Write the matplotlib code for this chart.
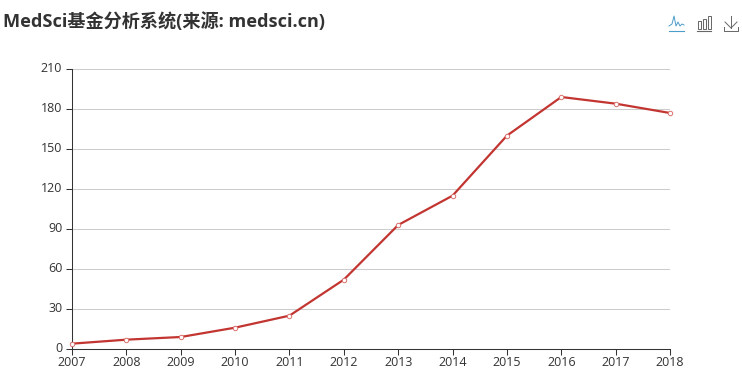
import matplotlib
matplotlib.use("Agg")
import matplotlib.pyplot as plt
from matplotlib.lines import Line2D
from matplotlib.patches import Rectangle

plt.rcParams['font.family'] = ['Open Sans', 'Noto Sans CJK SC', 'DejaVu Sans']

years = ['2007', '2008', '2009', '2010', '2011', '2012', '2013', '2014', '2015', '2016', '2017', '2018']
values = [4, 7, 9, 16, 25, 52, 93, 115, 160, 189, 184, 177]
yticks = [0, 30, 60, 90, 120, 150, 180, 210]
title = 'MedSci基金分析系统(来源: medsci.cn)'

W, H = 742, 376
fig = plt.figure(figsize=(W / 100, H / 100), dpi=100, facecolor='white')
L, R, T, B = 72, 670, 69, 349
ax = fig.add_axes([L / W, 1 - B / H, (R - L) / W, (B - T) / H])
xs = list(range(len(years)))
ax.plot(xs, values, color='#c23531', lw=1.6, marker='o', ms=3.2, mfc='white',
        mec='#d9706c', mew=0.7, clip_on=False, zorder=5)
ax.set_xlim(0, len(years) - 1)
ax.set_ylim(0, 210)
ax.set_xticks(xs)
ax.set_xticklabels(years)
ax.set_yticks(yticks)
ax.grid(axis='y', color='#cccccc', lw=0.75)
ax.set_axisbelow(True)
for s in ('top', 'right'):
    ax.spines[s].set_visible(False)
for s in ('left', 'bottom'):
    ax.spines[s].set_color('#333333')
    ax.spines[s].set_linewidth(0.75)
ax.tick_params(axis='both', colors='#333333', labelsize=9, length=4, width=0.75, pad=1)
ax.tick_params(axis='y', pad=3)
for lab in ax.get_yticklabels():
    lab.set_verticalalignment('center')
    lab.set_y(lab.get_position()[1])

fig.text(3 / W, 1 - 22 / H, title, fontsize=13.05, fontweight='bold', color='#333333',
         ha='left', va='center')

def px_line(px, py, color, lw=1):
    fig.add_artist(Line2D([p / W for p in px], [1 - p / H for p in py],
                          color=color, lw=lw, transform=fig.transFigure))

blue = '#4b9cc9'
grey = '#666666'
px_line([669, 672, 674, 676, 678, 680, 682, 684],
        [26, 24, 16, 26, 22, 26, 24, 25], blue, 0.7)
px_line([669, 684], [31, 31], blue, 0.8)
for x0, y0, h in [(698, 21, 8), (703, 19, 10), (708, 16, 13)]:
    fig.add_artist(Rectangle((x0 / W, 1 - 29 / H), 3 / W, h / H, fill=False,
                             ec=grey, lw=0.7, transform=fig.transFigure))
px_line([697, 711], [31, 31], grey, 0.8)
px_line([731, 731], [16, 28], grey, 0.7)
px_line([725, 731, 737], [22, 28, 22], grey, 0.7)
px_line([724, 724, 738, 738], [27, 31, 31, 27], grey, 0.7)

fig.savefig('out.png', dpi=100, facecolor='white')
